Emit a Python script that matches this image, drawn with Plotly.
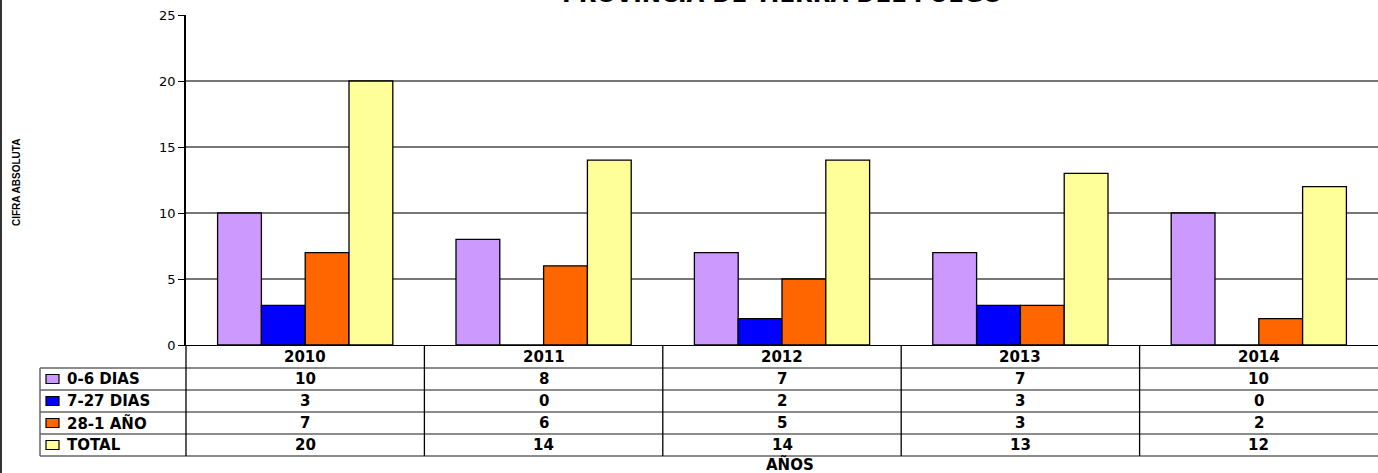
import plotly.graph_objects as go

years = ["2010", "2011", "2012", "2013", "2014"]
series_names = ["0-6 DIAS", "7-27 DIAS", "28-1 AÑO", "TOTAL"]
v_0_6 = [10, 8, 7, 7, 10]
v_7_27 = [3, 0, 2, 3, 0]
v_28_1 = [7, 6, 5, 3, 2]
v_total = [20, 14, 14, 13, 12]
colors = ["#CC99FF", "#0000FF", "#FF6600", "#FFFF99"]
title_text = "PROVINCIA DE TIERRA DEL FUEGO"
y_title = "CIFRA ABSOLUTA"
x_title = "AÑOS"

series = [v_0_6, v_7_27, v_28_1, v_total]

W, H = 1378, 473
L, R, T, B = 186, 0, 15, 128
PW = W - L - R
PH = H - T - B
FONT = "DejaVu Sans, Arial, sans-serif"

def py(p):  # pixel y -> paper y
    return (H - B - p) / PH

def px(p):  # pixel x -> paper x
    return (p - L) / PW

fig = go.Figure()
for name, vals, c in zip(series_names, series, colors):
    fig.add_trace(go.Bar(x=years, y=vals, name=name,
                         marker=dict(color=c, line=dict(color="#000000", width=1.3))))

shapes = []
annotations = []

row_lines = [368, 390, 412, 434, 456]
for p in row_lines:
    shapes.append(dict(type="line", xref="paper", yref="paper",
                       x0=px(40), x1=1, y0=py(p), y1=py(p),
                       line=dict(color="#666666", width=1.5)))
n = len(years)
for i in range(n):
    shapes.append(dict(type="line", xref="paper", yref="paper",
                       x0=i / n, x1=i / n, y0=py(345), y1=py(456),
                       line=dict(color="#000000", width=1.3)))
shapes.append(dict(type="line", xref="paper", yref="paper",
                   x0=px(40), x1=px(40), y0=py(368), y1=py(456),
                   line=dict(color="#666666", width=1.5)))
shapes.append(dict(type="line", xref="paper", yref="paper",
                   x0=px(1), x1=px(1), y0=py(0), y1=py(473),
                   line=dict(color="#333333", width=2)))

TFONT = dict(size=15, color="#000", family=FONT)
for i, yv in enumerate(years):
    annotations.append(dict(x=i, xref="x", y=py(356.5), yref="paper", text=f"<b>{yv}</b>",
                            showarrow=False, font=TFONT,
                            yanchor="middle", xanchor="center"))
row_centers = [379, 401, 423, 445]
for r, (name, vals, c) in enumerate(zip(series_names, series, colors)):
    yc = py(row_centers[r])
    shapes.append(dict(type="rect", xref="paper", yref="paper",
                       x0=px(46), x1=px(59), y0=py(row_centers[r] + 4.5), y1=py(row_centers[r] - 4.5),
                       fillcolor=c, line=dict(color="#000", width=1.2)))
    annotations.append(dict(x=px(65), xref="paper", y=yc, yref="paper", text=f"<b>{name}</b>",
                            showarrow=False, font=TFONT,
                            xanchor="left", yanchor="middle"))
    for i, v in enumerate(vals):
        annotations.append(dict(x=i, xref="x", y=yc, yref="paper", text=f"<b>{v}</b>",
                                showarrow=False, font=TFONT,
                                xanchor="center", yanchor="middle"))

annotations.append(dict(x=px(782), xref="paper", y=py(-6), yref="paper", text=f"<b>{title_text}</b>",
                        showarrow=False, font=dict(size=23, color="#000", family=FONT),
                        xanchor="center", yanchor="middle"))
annotations.append(dict(x=px(790), xref="paper", y=py(464), yref="paper", text=f"<b>{x_title}</b>",
                        showarrow=False, font=dict(size=15, color="#000", family=FONT),
                        xanchor="center", yanchor="middle"))
annotations.append(dict(x=px(17), xref="paper", y=py(183), yref="paper", text=f"<b>{y_title}</b>",
                        showarrow=False, font=dict(size=10, color="#000", family="Liberation Sans Narrow, Arial Narrow, Arial, sans-serif"),
                        textangle=-90, xanchor="center", yanchor="middle"))

fig.update_layout(
    width=W, height=H,
    margin=dict(l=L, r=R, t=T, b=B, pad=0),
    paper_bgcolor="white", plot_bgcolor="white",
    barmode="group", bargap=0.265, bargroupgap=0,
    showlegend=False,
    font=dict(family=FONT, color="#000"),
    xaxis=dict(type="category", range=[-0.5, len(years) - 0.5], showticklabels=False,
               showgrid=False, showline=True, linecolor="#000",
               linewidth=1.3, ticks="", zeroline=False),
    yaxis=dict(range=[0, 25], tickvals=[0, 5, 10, 15, 20, 25], showgrid=True,
               gridcolor="#777777", gridwidth=1.5, showline=True, linecolor="#000",
               linewidth=1.5, ticks="outside", ticklen=6, tickcolor="#000",
               tickfont=dict(size=13, family=FONT, color="#000"), zeroline=False),
    shapes=shapes, annotations=annotations,
)

fig.write_html("out.html", config={"displayModeBar": False},
               post_script="document.body.style.margin='0';document.body.style.overflow='hidden';")
